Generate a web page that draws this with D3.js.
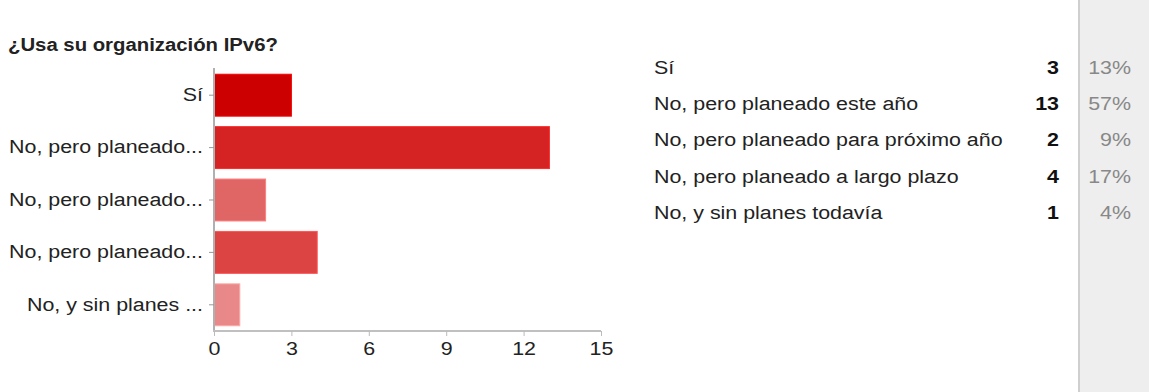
<!DOCTYPE html>
<html>
<head>
<meta charset="utf-8">
<script src="https://cdn.jsdelivr.net/npm/d3@7"></script>
<style>
html,body{margin:0;padding:0;background:#fff;}
svg{display:block;font-family:"Liberation Sans",Arial,sans-serif;}
</style>
</head>
<body>
<svg id="c" width="1149" height="392"></svg>
<script>
const title = "¿Usa su organización IPv6?";
const categories = ["Sí","No, pero planeado este año","No, pero planeado para próximo año","No, pero planeado a largo plazo","No, y sin planes todavía"];
const shortLabels = ["Sí","No, pero planeado...","No, pero planeado...","No, pero planeado...","No, y sin planes ..."];
const counts = [3,13,2,4,1];
const percents = ["13%","57%","9%","17%","4%"];
const barColors = ["#cc0000","#d52222","#e06666","#dc4444","#e88888"];
const xTicks = [0,3,6,9,12,15];

const SX = 1.19;   // horizontal stretch of the reference's text
const FS = 18;
const svg = d3.select("#c");

function stretchedText(sel, x, y, sx) {
  const s = sx || SX;
  return sel.attr("x", x / s).attr("y", y).attr("transform", `scale(${s},1)`);
}

// gray percent column
svg.append("rect").attr("x",1078).attr("y",0).attr("width",71).attr("height",392).attr("fill","#eeeeee");
svg.append("line").attr("x1",1079).attr("x2",1079).attr("y1",0).attr("y2",392).attr("stroke","#cfcfcf").attr("stroke-width",2);

stretchedText(svg.append("text"),8,51,1.13).attr("font-size",18).attr("font-weight","bold").attr("fill","#222").text(title);

const x = d3.scaleLinear().domain([0,15]).range([214,601]);
const y = d3.scaleBand().domain(d3.range(categories.length)).range([69,331]).paddingInner(0.2).paddingOuter(0.1);

svg.selectAll("rect.bar").data(counts).join("rect").attr("class","bar")
  .attr("x",x(0)).attr("y",(d,i)=>y(i)).attr("width",d=>x(d)-x(0)).attr("height",y.bandwidth())
  .attr("fill",(d,i)=>barColors[i]).attr("stroke",(d,i)=>d3.color(barColors[i]).brighter(0.6)).attr("stroke-width",1);

const yAxis = d3.axisLeft(y).tickSize(5).tickPadding(6).tickFormat(i=>shortLabels[i]);
const gy = svg.append("g").attr("transform",`translate(${x(0)},0)`).call(yAxis);
gy.select(".domain").attr("stroke","#b0b0b0").attr("stroke-width",2).attr("d",`M0,${y.range()[0]-1}V${y.range()[1]}`);
gy.selectAll(".tick line").attr("stroke","#999");
gy.selectAll(".tick text").attr("font-size",FS).attr("fill","#222").attr("font-family","Liberation Sans, Arial, sans-serif")
  .attr("x",-11/SX).attr("transform",`scale(${SX},1)`);

const xAxis = d3.axisBottom(x).tickValues(xTicks).tickSize(5).tickPadding(6).tickFormat(d3.format("d"));
const gx = svg.append("g").attr("transform",`translate(0,${y.range()[1]})`).call(xAxis);
gx.select(".domain").attr("stroke","#c0c0c0").attr("stroke-width",2).attr("d",`M${x(0)-1},0H${x(15)}`);
gx.selectAll(".tick line").attr("stroke","#bbb");
gx.selectAll(".tick text").attr("font-size",FS).attr("fill","#222").attr("font-family","Liberation Sans, Arial, sans-serif")
  .attr("transform",`scale(${SX},1)`);

// table
const rowY = d3.scaleLinear().domain([0,4]).range([74,219]);
const rows = svg.append("g");
rows.selectAll("text.cat").data(categories).join("text").attr("class","cat")
  .each(function(d,i){ stretchedText(d3.select(this),654,rowY(i)); })
  .attr("font-size",FS).attr("fill","#222").text(d=>d);
rows.selectAll("text.cnt").data(counts).join("text").attr("class","cnt")
  .each(function(d,i){ stretchedText(d3.select(this),1059,rowY(i)); })
  .attr("font-size",FS).attr("font-weight","bold").attr("fill","#111").attr("text-anchor","end").text(d=>d);
rows.selectAll("text.pct").data(percents).join("text").attr("class","pct")
  .each(function(d,i){ stretchedText(d3.select(this),1131,rowY(i)); })
  .attr("font-size",FS).attr("fill","#888").attr("text-anchor","end").text(d=>d);
</script>
</body>
</html>
